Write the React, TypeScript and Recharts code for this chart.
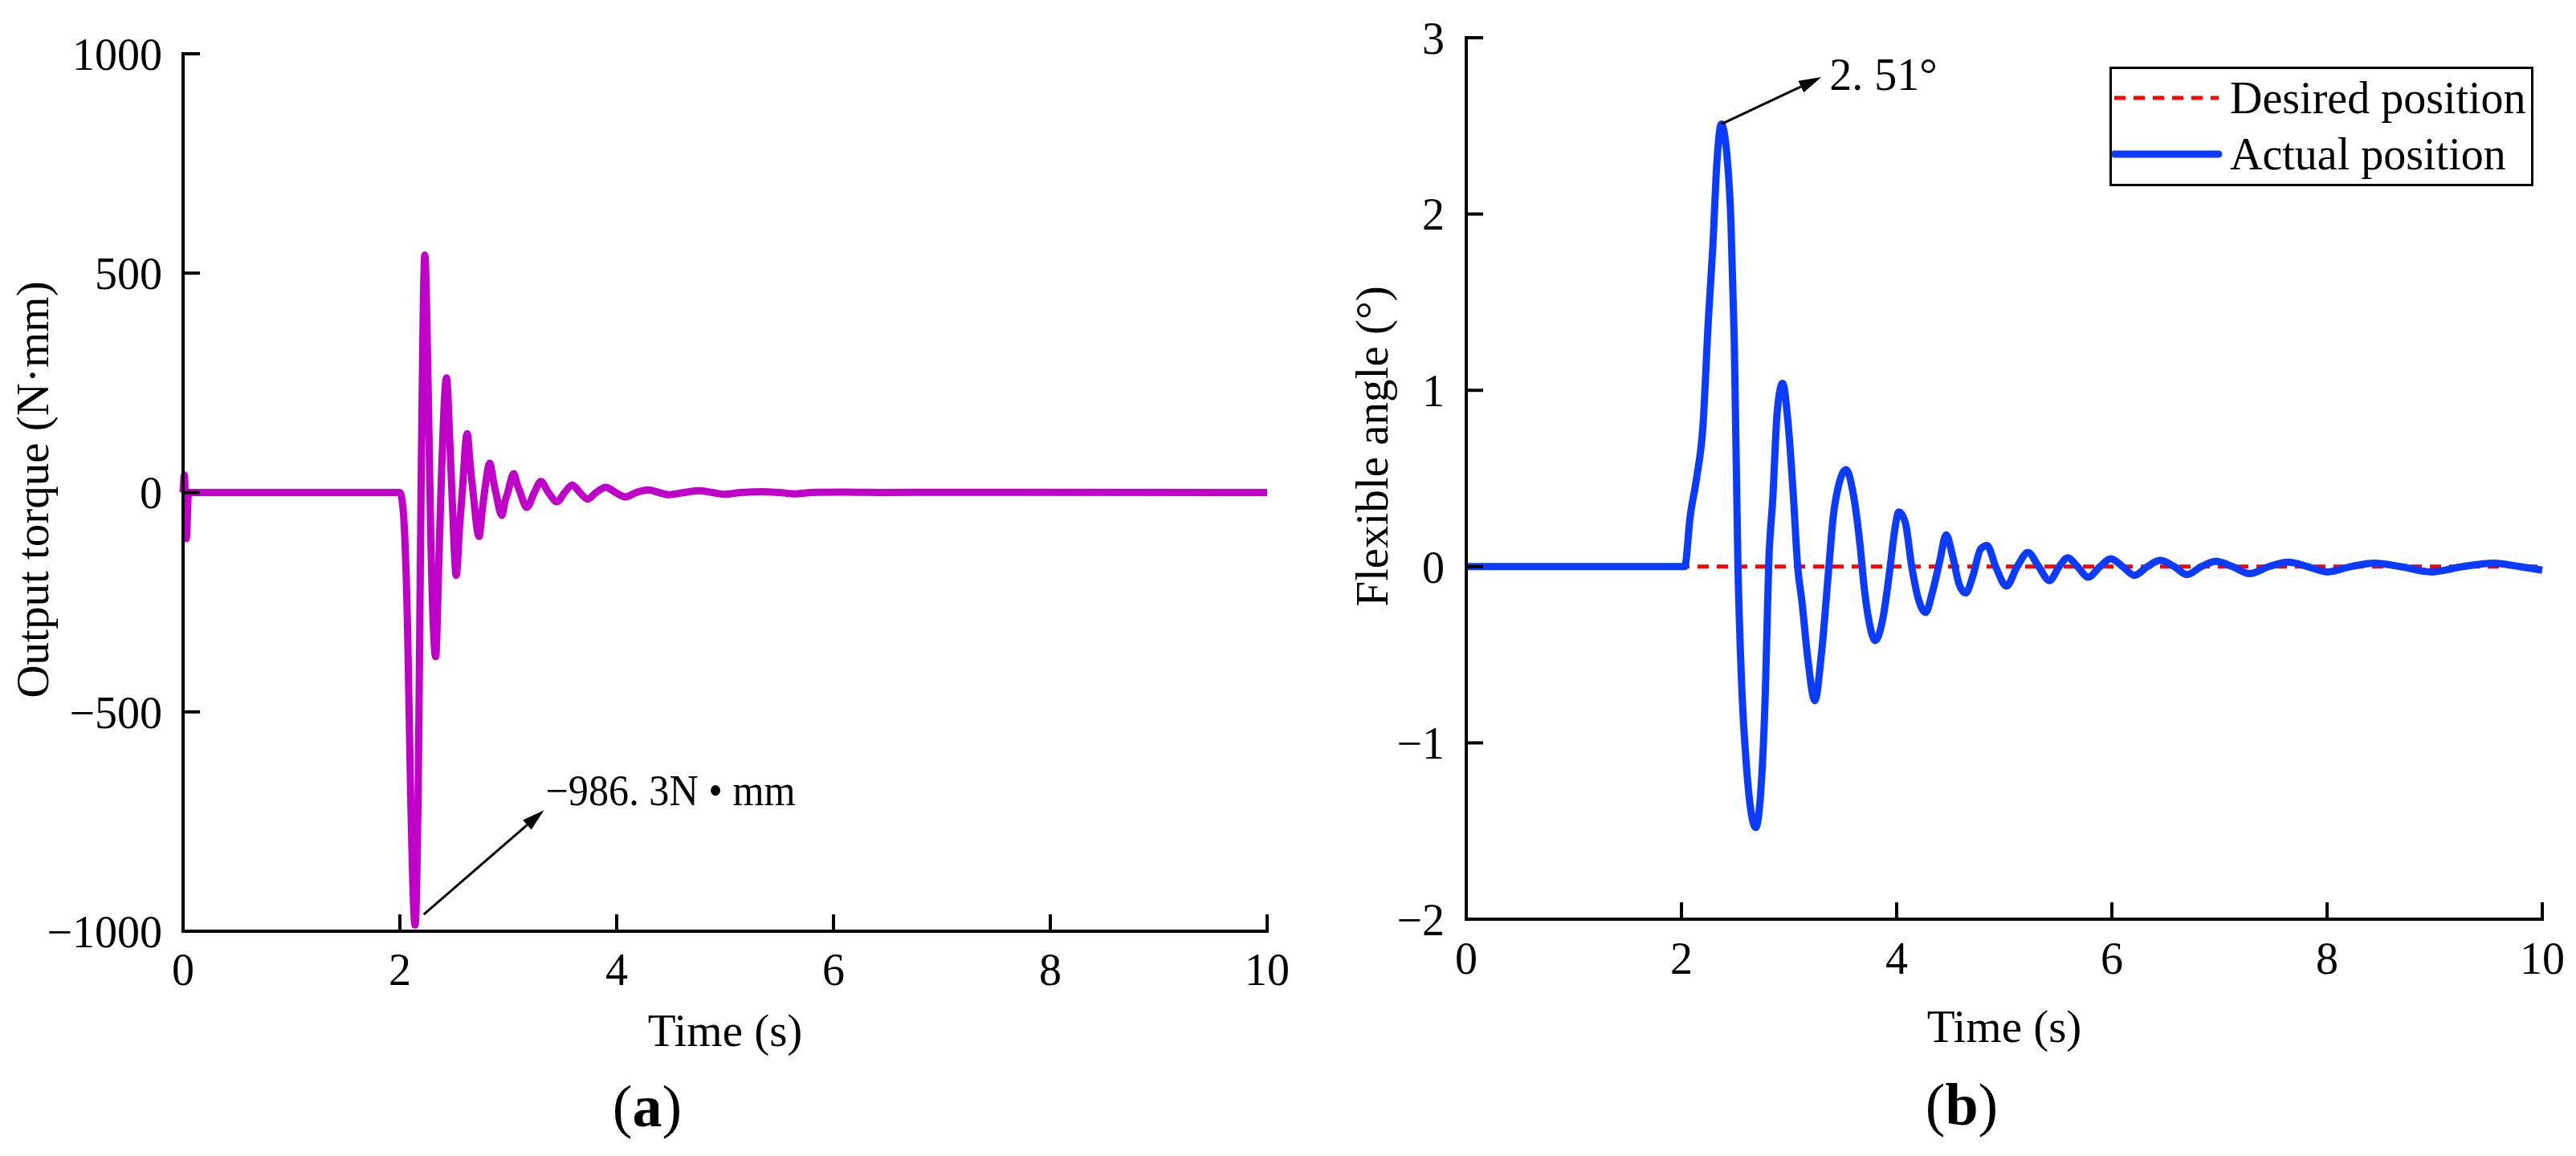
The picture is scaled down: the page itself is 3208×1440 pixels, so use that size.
import React from 'react';
import { LineChart, Line, XAxis, YAxis, ReferenceLine, Legend } from 'recharts';

const FONT = "'Liberation Serif', 'Times New Roman', serif";

// ---------- data (a): output torque ----------
const torqueTime = [
  0, 0.012, 0.03, 0.05, 2.0, 2.03, 2.07, 2.1, 2.14, 2.17, 2.195, 2.23, 2.26, 2.285, 2.33, 2.36, 2.385,
  2.43, 2.46, 2.48, 2.52, 2.55, 2.575, 2.62, 2.65, 2.675, 2.73, 2.76, 2.78, 2.83, 2.86, 2.885, 2.94,
  2.97, 2.995, 3.05, 3.08, 3.11, 3.17, 3.24, 3.3, 3.37, 3.45, 3.52, 3.59, 3.66, 3.73, 3.81, 3.9, 3.99,
  4.08, 4.18, 4.29, 4.39, 4.48, 4.62, 4.76, 4.88, 4.99, 5.15, 5.35, 5.5, 5.65, 5.8, 6.1, 6.5, 7.0, 10,
];
const torqueValue = [
  0, 40, -105, 0, 0, -40, -300, -700, -986, -650, 0, 541, 250, -100, -374, -150, 50,
  261, 120, 0, -189, -80, 0, 134, 60, 0, -100, -40, 0, 67, 30, 0, -52,
  -20, 0, 43, 20, 0, -34, 0, 25, 0, -21, 0, 17, 0, -15, 0, 12, 0,
  -10, 0, 6, 0, -5, 0, 4, 0, -4, 0, 2, 0, -3, 0, 1, 0, 0.5, 0,
];

// ---------- data (b): flexible angle ----------
const angleTime = [
  0, 2.03, 2.08, 2.14, 2.2, 2.25, 2.29, 2.33, 2.37, 2.42, 2.46, 2.49, 2.525, 2.56, 2.6, 2.69, 2.74,
  2.78, 2.81, 2.85, 2.89, 2.94, 2.99, 3.04, 3.08, 3.12, 3.17, 3.24, 3.3, 3.37, 3.41, 3.46, 3.53, 3.6,
  3.66, 3.7, 3.74, 3.8, 3.87, 3.94, 3.98, 4.02, 4.08, 4.14, 4.2, 4.27, 4.33, 4.4, 4.46, 4.52, 4.58,
  4.64, 4.71, 4.78, 4.84, 4.92, 5.02, 5.12, 5.22, 5.32, 5.42, 5.51, 5.59, 5.68, 5.78, 5.89, 5.99,
  6.1, 6.21, 6.33, 6.45, 6.58, 6.7, 6.83, 6.97, 7.12, 7.28, 7.46, 7.64, 7.82, 8.0, 8.22, 8.44, 8.68,
  8.97, 9.26, 9.55, 9.79, 10,
];
const angleValue = [
  0, 0, 0.28, 0.5, 0.8, 1.4, 1.8, 2.3, 2.51, 2.35, 1.95, 1.3, 0, -0.68, -1.1, -1.48, -1.25,
  -0.7, 0, 0.4, 0.88, 1.04, 0.82, 0.4, 0, -0.2, -0.5, -0.76, -0.5, 0, 0.28, 0.46, 0.55, 0.4,
  0.12, -0.13, -0.3, -0.42, -0.3, 0, 0.2, 0.31, 0.25, 0, -0.18, -0.26, -0.15, 0.03, 0.18, 0.06, -0.1,
  -0.15, -0.05, 0.1, 0.12, 0, -0.11, 0, 0.08, 0, -0.08, 0, 0.05, 0, -0.06, 0, 0.045,
  0, -0.05, 0, 0.035, 0, -0.045, 0, 0.03, 0, -0.04, 0, 0.025, 0, -0.03, 0, 0.02, 0,
  -0.03, 0, 0.02, 0, -0.02,
];
const desiredTime = [0, 10];
const desiredValue = [0, 0];

// ---------- ticks / labels ----------
const timeTicks = [0, 2, 4, 6, 8, 10];
const torqueTicks = [-1000, -500, 0, 500, 1000];
const angleTicks = [-2, -1, 0, 1, 2, 3];
const seriesNames = { desired: 'Desired position', actual: 'Actual position' };
const legendOrder = ['desired', 'actual'];

// annotation anchors (data coordinates)
const torqueArrow = [{ x: 2.22, y: -962 }, { x: 3.33, y: -724 }];
const torqueArrowText = '\u2212986. 3N \u2022 mm';
const angleArrow = [{ x: 2.37, y: 2.51 }, { x: 3.3, y: 2.777 }];
const angleArrowText = '2. 51\u00B0';

const torqueData = torqueTime.map((t, i) => ({ t, torque: torqueValue[i] }));
const actualData = angleTime.map((t, i) => ({ t, actual: angleValue[i] }));
const desiredData = desiredTime.map((t, i) => ({ t, desired: desiredValue[i] }));

const fmt = (v: number) => (v < 0 ? '\u2212' + Math.abs(v) : String(v));

const tickStyle = { fill: '#000', fontSize: 56, fontFamily: FONT };
const axisLineStyle = { stroke: '#000', strokeWidth: 4, strokeLinecap: 'square' as const };
const tickLineStyle = { stroke: '#000', strokeWidth: 4 };

function makeArrow(text: string, tdx: number, tdy: number, fontSize: number, textLength?: number) {
  return (props: any) => {
    const { x1, y1, x2, y2 } = props;
    const ang = Math.atan2(y2 - y1, x2 - x1);
    const L = 28;
    const W = 8;
    const bx = x2 - L * Math.cos(ang);
    const by = y2 - L * Math.sin(ang);
    const px = -Math.sin(ang) * W;
    const py = Math.cos(ang) * W;
    return (
      <g>
        <line x1={x1} y1={y1} x2={bx} y2={by} stroke="#000" strokeWidth={3} />
        <polygon points={`${x2},${y2} ${bx + px},${by + py} ${bx - px},${by - py}`} fill="#000" />
        <text
          x={x2 + tdx}
          y={y2 + tdy}
          fontSize={fontSize}
          fontFamily={FONT}
          style={{ fontFamily: FONT }}
          fill="#000"
          textLength={textLength}
          lengthAdjust={textLength ? 'spacingAndGlyphs' : undefined}
        >
          {text}
        </text>
      </g>
    );
  };
}

function LegendBox({ payload }: any) {
  const items = [...(payload || [])].sort(
    (a: any, b: any) => legendOrder.indexOf(a.dataKey) - legendOrder.indexOf(b.dataKey),
  );
  return (
    <div
      style={{
        width: 528,
        height: 149,
        border: '3px solid #000',
        boxSizing: 'border-box',
        background: '#fff',
        position: 'relative',
      }}
    >
      {items.map((e: any, i: number) => {
        const dashed = e.dataKey === 'desired';
        return (
          <div
            key={i}
            style={{
              position: 'absolute',
              left: 0,
              top: 1 + i * 70,
              height: 70,
              width: '100%',
              display: 'flex',
              alignItems: 'center',
            }}
          >
            <svg width={147} height={70} style={{ flex: 'none', display: 'block' }}>
              <line
                x1={3}
                x2={133}
                y1={35}
                y2={35}
                stroke={e.color}
                strokeWidth={dashed ? 5 : 9}
                strokeDasharray={dashed ? '14 10' : undefined}
                strokeLinecap={dashed ? 'butt' : 'round'}
              />
            </svg>
            <span
              style={{
                fontSize: 56,
                lineHeight: '70px',
                fontFamily: FONT,
                color: '#000',
                whiteSpace: 'nowrap',
              }}
            >
              {e.value}
            </span>
          </div>
        );
      })}
    </div>
  );
}

export default function App() {
  return (
    <div
      style={{
        position: 'absolute',
        left: 0,
        top: 0,
        width: 3208,
        height: 1440,
        background: '#fff',
        overflow: 'hidden',
        fontFamily: FONT,
      }}
    >
      <div style={{ position: 'absolute', left: 0, top: 0 }}>
        <LineChart
          width={1640}
          height={1440}
          margin={{ top: 67, right: 62, bottom: 220, left: 108 }}
          style={{ fontFamily: FONT }}
        >
          <XAxis
            type="number"
            dataKey="t"
            domain={[0, 10]}
            ticks={timeTicks}
            interval={0}
            height={60}
            tickFormatter={fmt}
            tick={tickStyle}
            axisLine={axisLineStyle}
            tickLine={tickLineStyle}
            tickSize={-21}
            tickMargin={48}
          />
          <YAxis
            type="number"
            domain={[-1000, 1000]}
            ticks={torqueTicks}
            interval={0}
            width={120}
            tickFormatter={fmt}
            tick={tickStyle}
            axisLine={axisLineStyle}
            tickLine={tickLineStyle}
            tickSize={-21}
            tickMargin={47}
          />
          <Line
            data={torqueData}
            dataKey="torque"
            type="monotone"
            stroke="#C000C8"
            strokeWidth={9}
            dot={false}
            activeDot={false}
            isAnimationActive={false}
          />
          <ReferenceLine
            segment={torqueArrow}
            ifOverflow="visible"
            shape={makeArrow(torqueArrowText, 2, -6, 54, 311)}
          />
        </LineChart>
      </div>

      <div style={{ position: 'absolute', left: 1600, top: 0 }}>
        <LineChart
          width={1608}
          height={1440}
          margin={{ top: 47, right: 42, bottom: 235, left: 106 }}
          style={{ fontFamily: FONT }}
        >
          <XAxis
            type="number"
            dataKey="t"
            domain={[0, 10]}
            ticks={timeTicks}
            interval={0}
            height={60}
            tickFormatter={fmt}
            tick={tickStyle}
            axisLine={axisLineStyle}
            tickLine={tickLineStyle}
            tickSize={-21}
            tickMargin={49}
          />
          <YAxis
            type="number"
            domain={[-2, 3]}
            ticks={angleTicks}
            interval={0}
            width={120}
            tickFormatter={fmt}
            tick={tickStyle}
            axisLine={axisLineStyle}
            tickLine={tickLineStyle}
            tickSize={-21}
            tickMargin={48}
          />
          <Line
            data={desiredData}
            dataKey="desired"
            name={seriesNames.desired}
            type="linear"
            stroke="#FF0000"
            strokeWidth={5}
            strokeDasharray="14 10"
            dot={false}
            activeDot={false}
            isAnimationActive={false}
          />
          <Line
            data={actualData}
            dataKey="actual"
            name={seriesNames.actual}
            type="monotone"
            stroke="#0A3BFF"
            strokeWidth={9}
            dot={false}
            activeDot={false}
            isAnimationActive={false}
          />
          <ReferenceLine
            segment={angleArrow}
            ifOverflow="visible"
            shape={makeArrow(angleArrowText, 10, 16, 56)}
          />
          <Legend
            layout="vertical"
            align="center"
            verticalAlign="middle"
            wrapperStyle={{ left: 1027, top: 83, width: 528, height: 149 }}
            content={(p: any) => <LegendBox payload={p.payload} />}
          />
        </LineChart>
      </div>

      <svg
        width={3208}
        height={1440}
        style={{ position: 'absolute', left: 0, top: 0, pointerEvents: 'none' }}
      >
        <g fontFamily={FONT} fill="#000">
          <text transform="translate(60,610) rotate(-90)" textAnchor="middle" fontSize={57}>
            Output torque (N·mm)
          </text>
          <text transform="translate(1728,556) rotate(-90)" textAnchor="middle" fontSize={57}>
            Flexible angle (°)
          </text>
          <text x={903} y={1303} textAnchor="middle" fontSize={57}>
            Time (s)
          </text>
          <text x={2496} y={1298} textAnchor="middle" fontSize={57}>
            Time (s)
          </text>
          <text x={806} y={1403} textAnchor="middle" fontSize={74}>
            (<tspan fontWeight="bold">a</tspan>)
          </text>
          <text x={2443} y={1401} textAnchor="middle" fontSize={74}>
            (<tspan fontWeight="bold">b</tspan>)
          </text>
        </g>
      </svg>
    </div>
  );
}
